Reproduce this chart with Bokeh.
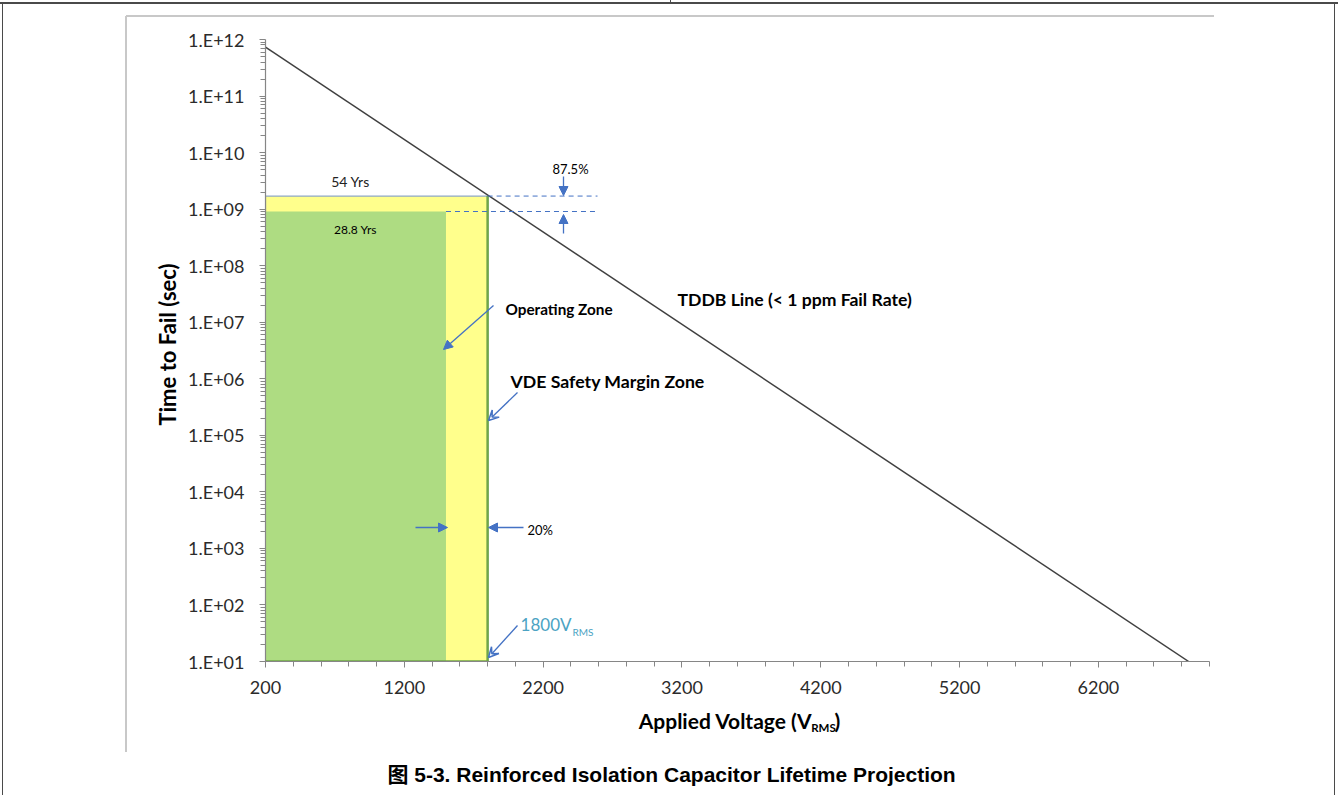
import math
from bokeh.plotting import figure
from bokeh.models import (Range1d, FixedTicker, CustomJSTickFormatter, Label, Arrow,
                          NormalHead, VeeHead, LinearAxis, LogAxis)
from bokeh.embed import file_html
from bokeh.resources import INLINE

# ---------------- data ----------------
x_major_ticks = [200, 1200, 2200, 3200, 4200, 5200, 6200]
x_minor_ticks = [200, 400, 600, 800, 1000, 1200, 1400, 1600, 1800, 2000, 2200, 2400,
                 2600, 2800, 3000, 3200, 3400, 3600, 3800, 4000, 4200, 4400, 4600,
                 4800, 5000, 5200, 5400, 5600, 5800, 6000, 6200, 6400, 6600, 6800, 7000]
y_exponents = [1, 2, 3, 4, 5, 6, 7, 8, 9, 10, 11, 12]
y_minor_mult = [2, 3, 4, 5, 6, 7, 8, 9]

tddb_voltage = [200, 6850]          # V_RMS
tddb_seconds = [7.3e11, 1.0e1]      # time to fail (s)

rated_voltage = 1800                # VDE safety margin zone edge
operating_voltage = 1500            # operating zone edge (20 % margin)
zone_years = [54, 28.8]             # lifetime at rated / operating voltage
seconds_per_year = 3.1536e7
zone_labels = ["54 Yrs", "28.8 Yrs"]

# ---------------- geometry helpers (page pixels -> data) ----------------
W, H = 1338, 795
FX0, FX1 = 265, 1209   # frame left/right (px)
FY0, FY1 = 39, 661     # frame top/bottom (px)
XMIN, XMAX = 200, 7000
YMIN, YMAX = 1e1, 1e12


def px2x(px):
    return XMIN + (px - FX0) * (XMAX - XMIN) / (FX1 - FX0)


def py2y(py):
    lo, hi = math.log10(YMIN), math.log10(YMAX)
    return 10 ** (hi - (py - FY0) * (hi - lo) / (FY1 - FY0))


# page frame lines drawn as CSS background of the figure element
bg_lines = [  # (x, y, w, h, color)
    (0, 2, 1338, 2, "#4a4a4a"),
    (670, 0, 1, 4, "#4a4a4a"),
    (2, 3, 1, 792, "#4a4a4a"),
    (1334, 3, 1, 792, "#4a4a4a"),
    (126, 15, 1088, 2, "#c8c8c8"),
    (125, 16, 2, 736, "#c8c8c8"),
]
styles = {
    "background-color": "white",
    "background-image": ", ".join(f"linear-gradient({c},{c})" for *_, c in bg_lines),
    "background-size": ", ".join(f"{w}px {h}px" for _, _, w, h, _ in bg_lines),
    "background-position": ", ".join(f"{x}px {y}px" for x, y, *_ in bg_lines),
    "background-repeat": "no-repeat",
}

p = figure(width=W, height=H,
           x_range=Range1d(XMIN, XMAX), y_range=Range1d(YMIN, YMAX),
           y_axis_type="log", output_backend="svg", toolbar_location=None,
           min_border_left=FX0, min_border_right=W - FX1,
           min_border_top=FY0, min_border_bottom=H - FY1,
           styles=styles)
p.outline_line_color = None
p.background_fill_color = "white"
p.border_fill_color = None
p.xgrid.visible = False
p.ygrid.visible = False

AX = "#868686"
for ax in (p.xaxis[0], p.yaxis[0]):
    ax.axis_line_color = AX
    ax.axis_line_width = 1.2
    ax.major_tick_line_color = AX
    ax.minor_tick_line_color = AX
    ax.major_tick_in = 0
    ax.major_tick_out = 6
    ax.minor_tick_in = 0
    ax.minor_tick_out = 5
    ax.major_label_text_font = "Lato"
    ax.major_label_text_font_size = "18px"
    ax.major_label_text_color = "#2b2b2b"

p.xaxis[0].ticker = FixedTicker(ticks=x_major_ticks, minor_ticks=x_minor_ticks)
p.xaxis[0].major_label_standoff = 13
p.yaxis[0].ticker = FixedTicker(
    ticks=[10.0 ** e for e in y_exponents],
    minor_ticks=[m * 10.0 ** e for e in y_exponents[:-1] for m in y_minor_mult])
p.yaxis[0].formatter = CustomJSTickFormatter(
    code='const e = Math.round(Math.log10(tick)); return "1.E+" + (e < 10 ? "0" : "") + e;')
p.yaxis[0].major_label_standoff = 15


# ---------------- out-of-frame texts as tick-label-only axes ----------------
def text_axis(kind, side, ticks, texts, size, standoff, bold=True, color="#000000",
              font="Lato", orientation="horizontal"):
    ax = kind(ticker=FixedTicker(ticks=ticks, minor_ticks=[]),
              formatter=CustomJSTickFormatter(
                  code="return " + repr(list(texts)) + "[index];"),
              axis_line_color=None, major_tick_line_color=None,
              minor_tick_line_color=None, major_tick_in=0, major_tick_out=0,
              minor_tick_in=0, minor_tick_out=0,
              major_label_text_font=font, major_label_text_font_size=f"{size}px",
              major_label_text_font_style="bold" if bold else "normal",
              major_label_text_color=color, major_label_standoff=standoff,
              major_label_orientation=orientation)
    p.add_layout(ax, side)
    return ax


# y axis title
text_axis(LogAxis, "left", [py2y(344)], ["Time to Fail (sec)"], 22, 5,
          orientation="vertical")
# x axis title (with subscript)
text_axis(LinearAxis, "below", [round(px2x(725)), round(px2x(837))],
          ["Applied Voltage (V", ")"], 21, 11)
text_axis(LinearAxis, "below", [round(px2x(823))], ["RMS"], 11.5, -15)
# caption
text_axis(LinearAxis, "below", [round(px2x(671))],
          ["图 5-3. Reinforced Isolation Capacitor Lifetime Projection"], 21, 26,
          font="Liberation Sans, Noto Sans CJK SC")

# ---------------- zones ----------------
yellow_top = zone_years[0] * seconds_per_year
green_top = zone_years[1] * seconds_per_year
GREEN_EDGE = "#6FA54A"
BLUE = "#4472C4"

p.quad(left=[XMIN], right=[rated_voltage], bottom=[YMIN], top=[yellow_top],
       fill_color="#FFFF8C", line_color="#8FA8C8", line_width=1.2)
p.quad(left=[XMIN], right=[operating_voltage], bottom=[YMIN], top=[green_top],
       fill_color="#AEDC82", line_color=None)
p.segment(x0=[rated_voltage], y0=[YMIN], x1=[rated_voltage], y1=[yellow_top],
          line_color=GREEN_EDGE, line_width=2.5)
p.segment(x0=[XMIN], y0=[YMIN], x1=[rated_voltage], y1=[YMIN],
          line_color=GREEN_EDGE, line_width=2.5)

# TDDB line
p.line(tddb_voltage, tddb_seconds, line_color="#404040", line_width=1.5)

# dashed reference lines
dash_end = px2x(597)
p.segment(x0=[rated_voltage, operating_voltage], y0=[yellow_top, green_top],
          x1=[dash_end, dash_end], y1=[yellow_top, green_top],
          line_color=BLUE, line_width=1, line_dash="5 4")


# ---------------- arrows ----------------
def arrow(x0, y0, x1, y1, head="normal"):
    if head == "normal":
        h = NormalHead(size=9, fill_color=BLUE, line_color=BLUE, line_width=1)
    else:
        h = VeeHead(size=10, fill_color=None, line_color=BLUE, line_width=1.5)
    p.add_layout(Arrow(x_start=px2x(x0), y_start=py2y(y0), x_end=px2x(x1), y_end=py2y(y1),
                       end=h, line_color=BLUE, line_width=1.3))


arrow(563, 176, 563, 195)
arrow(563, 233, 563, 214)
arrow(493, 305, 443, 349)
arrow(517, 392, 488, 420, head="vee")
arrow(415, 527, 447, 527)
arrow(523, 527, 488, 527)
arrow(517, 625, 488, 657, head="vee")


# ---------------- in-frame texts ----------------
def lab(text, px, py, size, bold=False, align="left", color="#000000", font="Lato"):
    p.add_layout(Label(x=px2x(px), y=py2y(py), text=text, text_font=font,
                       text_font_size=f"{size}px",
                       text_font_style="bold" if bold else "normal",
                       text_align=align, text_baseline="middle", text_color=color))


lab(zone_labels[0], 350, 181, 14, align="center", color="#222222")
lab(zone_labels[1], 355, 229, 12, align="center")
lab("87.5%", 570, 168, 13, align="center")
lab("Operating Zone", 505, 308, 15.3, bold=True)
lab("VDE Safety Margin Zone", 510, 381, 17.7, bold=True)
lab("TDDB Line (< 1 ppm Fail Rate)", 677, 299, 17.6, bold=True)
lab("20%", 527, 529, 13)
lab("1800V", 571, 624, 17, align="right", color="#4BA3C3")
lab("RMS", 572, 631, 10, color="#4BA3C3")

open("out.html", "w").write(file_html(p, INLINE))
